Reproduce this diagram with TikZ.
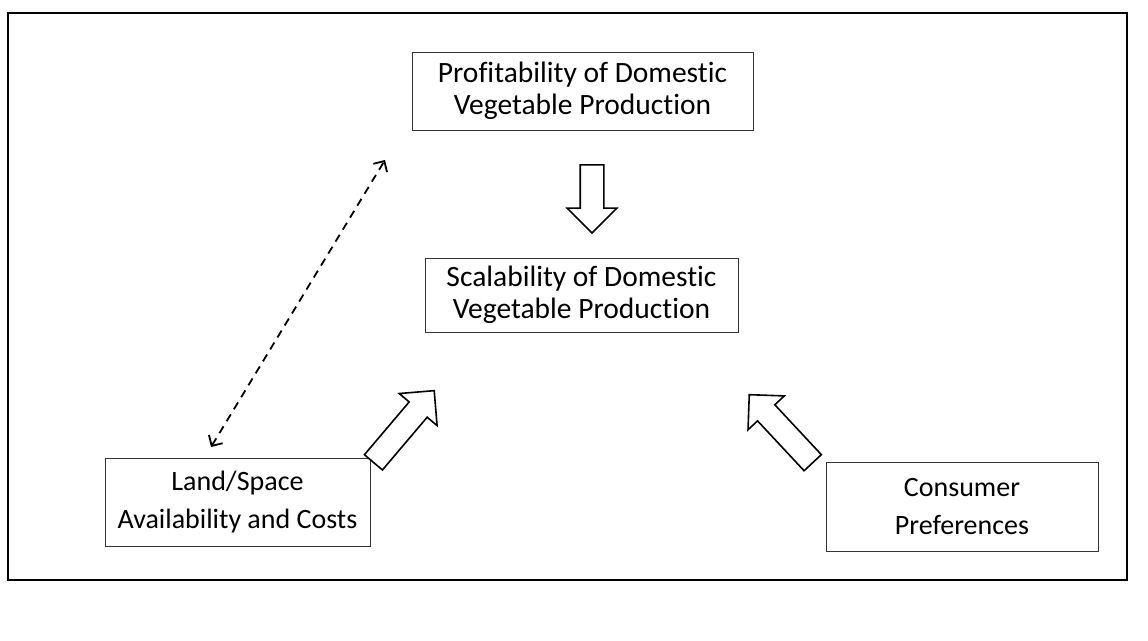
\documentclass[tikz,border=0pt]{standalone}
\usepackage{fontspec}
\setmainfont{Carlito}[Ligatures=NoCommon]
\usetikzlibrary{shapes.arrows,arrows.meta}
\begin{document}
\begin{tikzpicture}[x=1pt,y=-1pt,
  box/.style={draw=black!80, line width=1pt, align=center, inner sep=0pt,
    font=\fontsize{29.5}{32}\selectfont},
  smallbox/.style={box, font=\fontsize{28}{38}\selectfont},
  blockarrow/.style={single arrow, draw=black, line width=1.6pt, fill=white,
    inner xsep=0pt, inner ysep=11pt, single arrow head extend=13pt,
    single arrow tip angle=90},
  dasharrow/.style={line width=1.8pt, dash pattern=on 8pt off 6pt,
    {Straight Barb[length=8pt,width=16pt]}-{Straight Barb[length=8pt,width=16pt]}}]
\useasboundingbox (0,0) rectangle (1148,640);
\draw[line width=1.6pt] (8,13) rectangle (1127,580);
\node[box, minimum width=341pt, minimum height=78pt] (prof) at (582.5,91)
  {Profitability of Domestic\\Vegetable Production};
\node[box, minimum width=313pt, minimum height=74pt] (scal) at (581.5,295)
  {Scalability of Domestic\\Vegetable Production};
\node[smallbox, minimum width=265pt, minimum height=88pt] (land) at (237.5,502)
  {Land/Space\\Availability and Costs};
\node[smallbox, minimum width=272pt, minimum height=89pt] (cons) at (962,506.5)
  {Consumer\\Preferences};
\node[blockarrow, minimum height=68pt, rotate=-90] (adown) at (592,193) {};
\node[blockarrow, minimum height=94pt, rotate=49.7] (aleft) at (400,431) {};
\node[blockarrow, minimum height=93pt, rotate=133] (aright) at (785,433) {};
\coordinate (dtop) at (385,160);
\coordinate (dbot) at (211,447);
\draw[dasharrow] (dbot) -- (dtop);
\end{tikzpicture}
\end{document}
